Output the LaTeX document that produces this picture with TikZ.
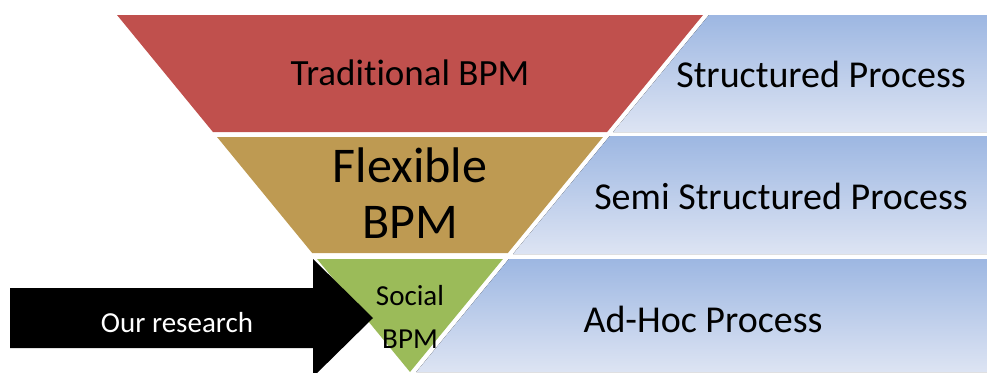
\documentclass[tikz,border=0pt]{standalone}
\usepackage{fontspec}
\setmainfont{Carlito}[Ligatures={NoCommon}]
\definecolor{tradred}{HTML}{C0504D}
\definecolor{flextan}{HTML}{BE9A52}
\definecolor{socgreen}{HTML}{9BBB59}
\definecolor{proctop}{HTML}{9DB7E2}
\definecolor{procbot}{HTML}{DDE4F3}
\begin{document}
\begin{tikzpicture}[x=1pt, y=-1pt, line join=round,
	proc/.style={top color=proctop, bottom color=procbot},
	lbl/.style={anchor=base, inner sep=0pt, font=\fontsize{38}{44}\selectfont}]
	\def\s{0.82} % slope of the funnel sides
	\def\xl{117} \def\xr{703} \def\yt{15}
	\useasboundingbox (0,0) rectangle (987,372);
	% funnel
	\fill[tradred] (\xl,15) -- (\xr,15) -- ({\xr-\s*(132-\yt)},132) -- ({\xl+\s*(132-\yt)},132) -- cycle;
	\fill[flextan] ({\xl+\s*(137-\yt)},137) -- ({\xr-\s*(137-\yt)},137) -- ({\xr-\s*(253-\yt)},253) -- ({\xl+\s*(253-\yt)},253) -- cycle;
	\fill[socgreen] ({\xl+\s*(259-\yt)},259) -- ({\xr-\s*(259-\yt)},259) -- (410,372) -- cycle;
	% process bands
	\fill[proc] ({\xr+6},15) -- (987,15) -- (987,132) -- ({\xr+6-\s*(132-\yt)},132) -- cycle;
	\fill[proc] ({\xr+6-\s*(136-\yt)},136) -- (987,136) -- (987,254) -- ({\xr+6-\s*(254-\yt)},254) -- cycle;
	\fill[proc] ({\xr+6-\s*(259-\yt)},259) -- (987,259) -- (987,372) -- ({\xr+6-\s*(372-\yt)},372) -- cycle;
	% arrow
	\fill[black] (10,288) -- (313,288) -- (313,259) -- (373,318) -- (313,377) -- (313,348) -- (10,348) -- cycle;
	% labels
	\node[lbl, font=\fontsize{37}{44}\selectfont] (trad) at (410,85) {Traditional BPM};
	\node[lbl, font=\fontsize{50}{56}\selectfont] (flex) at (410,182) {Flexible};
	\node[lbl, font=\fontsize{50}{56}\selectfont] (flexb) at (410,238) {BPM};
	\node[lbl, font=\fontsize{29}{34}\selectfont] (soc) at (410,305) {Social};
	\node[lbl, font=\fontsize{29}{34}\selectfont] (socb) at (410,348) {BPM};
	\node[lbl, font=\fontsize{29}{34}\selectfont, text=white] (ours) at (177,332) {Our research};
	\node[lbl] (struct) at (821,87) {Structured Process};
	\node[lbl] (semi) at (781,209) {Semi Structured Process};
	\node[lbl] (adhoc) at (703,332) {Ad-Hoc Process};
\end{tikzpicture}
\end{document}
